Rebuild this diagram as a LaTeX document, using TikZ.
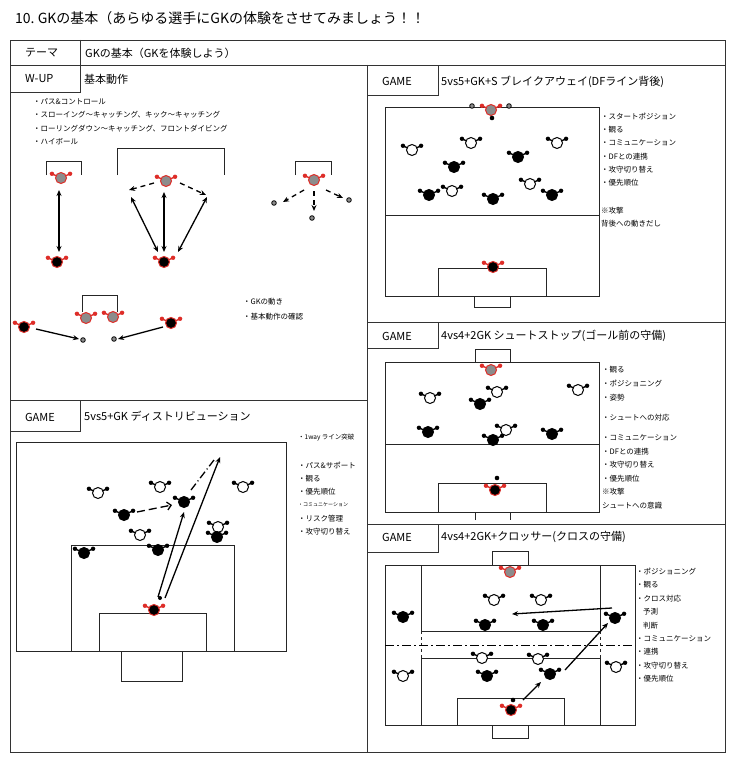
\documentclass[tikz,border=0pt]{standalone}
\usepackage{fontspec}
\setmainfont{Noto Sans CJK JP}
\usetikzlibrary{arrows.meta}
\definecolor{rd}{RGB}{222,45,40}
\definecolor{gk}{RGB}{140,140,140}
\tikzset{
 fr/.style={draw=black!80,line width=0.8},
 ln/.style={draw=black!85,line width=0.7},
 arr/.style={line width=1.3,-{Stealth[length=6pt,width=5pt]}},
 darr/.style={line width=1.3,{Stealth[length=6pt,width=5pt]}-{Stealth[length=6pt,width=5pt]}},
 dsh/.style={arr,dash pattern=on 5pt off 4pt},
 lab/.style={anchor=west,font=\fontsize{11}{11}\selectfont,inner sep=0},
 bul/.style={anchor=west,font=\fontsize{7.5}{8}\selectfont,inner sep=0},
 arms/.style={line width=1.4},
 pics/pl/.style n args={3}{code={
   \draw[#3,arms] (0,0)--(-25:10) (0,0)--(-155:10);
   \fill[#3] (-25:10) circle (2.2) (-155:10) circle (2.2);
   \filldraw[fill=#1,draw=#2,line width=1] (0,0) circle (5.5);
 }},
 pics/bl/.style={code={\pic{pl={black}{black}{black}};}},
 pics/wh/.style={code={\pic{pl={white}{black}{black}};}},
 pics/gg/.style={code={\pic{pl={gk}{rd}{rd}};}},
 pics/gb/.style={code={\pic{pl={black}{rd}{rd}};}},
}
\begin{document}
\begin{tikzpicture}[x=1pt,y=-1pt]
\useasboundingbox (0,0) rectangle (736,773);
\fill[white] (0,0) rectangle (736,773);
\node[anchor=west,inner sep=0,font=\fontsize{14}{14}\selectfont] (title) at (15,18) {10.\ GKの基本（あらゆる選手にGKの体験をさせてみましょう！！};
% frames
\draw[fr] (10,40) rectangle (725,752);
\draw[fr] (10,65)--(725,65) (80,40)--(80,65);
\draw[fr] (367,65)--(367,752);
\draw[fr] (10,92)--(80,92)--(80,65);
\draw[fr] (10,400)--(367,400);
\draw[fr] (10,431)--(80,431)--(80,400);
\draw[fr] (367,95)--(438,95)--(438,65);
\draw[fr] (367,322)--(725,322) (367,348)--(438,348)--(438,322);
\draw[fr] (367,524)--(725,524) (367,552)--(438,552)--(438,524);
\node[lab] (t0) at (25,53) {テーマ};
\node[lab] (t0b) at (85,53) {GKの基本（GKを体験しよう）};
\node[lab] (t1) at (25,79) {W-UP};
\node[lab] (t1b) at (84,79) {基本動作};
\node[lab] (t2) at (25,417) {GAME};
\node[lab] (t2b) at (84,416) {5vs5+GK ディストリビューション};
\node[lab] (t3) at (382,81) {GAME};
\node[lab] (t3b) at (441,82) {5vs5+GK+S ブレイクアウェイ(DFライン背後)};
\node[lab] (t4) at (382,336) {GAME};
\node[lab] (t4b) at (441,336) {4vs4+2GK シュートストップ(ゴール前の守備)};
\node[lab] (t5) at (382,537) {GAME};
\node[lab] (t5b) at (441,537) {4vs4+2GK+クロッサー(クロスの守備)};
% ===== W-UP
\node[bul] (w1) at (33,102) {・パス\&コントロール};
\node[bul] (w2) at (33,115) {・スローイング～キャッチング、キック～キャッチング};
\node[bul] (w3) at (33,129) {・ローリングダウン～キャッチング、フロントダイビング};
\node[bul] (w4) at (33,142) {・ハイボール};
\node[bul] (w5) at (243,302) {・GKの動き};
\node[bul] (w6) at (243,317) {・基本動作の確認};
\draw[ln] (46,175)|-(81,161)--(81,175);
\draw[ln] (117,175)|-(224,148)--(224,175);
\draw[ln] (295,175)|-(331,161)--(331,175);
\draw[ln] (82,312)|-(117,295)--(117,312);
\pic[rotate=180] at (61,178) {gg};
\pic at (57,262) {gb};
\draw[darr] (59,190)--(59,252);
\pic[rotate=180] at (166,181) {gg};
\pic at (164,262) {gb};
\draw[dsh] (154,183)--(129,190);
\draw[dsh] (180,183)--(206,195);
\draw[darr] (164,192)--(164,252);
\draw[darr] (131,197)--(158,252);
\draw[darr] (207,197)--(178,252);
\pic[rotate=180] at (314,180) {gg};
\foreach \p in {(274,203),(312,218),(349,200)} \filldraw[fill=gk,draw=black,line width=0.8] \p circle (2.3);
\draw[dsh] (304,190)--(283,202);
\draw[dsh] (314,191)--(314,211);
\draw[dsh] (326,190)--(343,198);
\pic[rotate=200] at (86,318) {gg};
\pic[rotate=160] at (113,317) {gg};
\pic[rotate=-90] at (24,327) {gb};
\pic[rotate=90] at (171,323) {gb};
\foreach \p in {(83,340),(114,339)} \filldraw[fill=gk,draw=black,line width=0.8] \p circle (2.3);
\draw[arr] (36,329)--(79,339);
\draw[arr] (163,327)--(118,339);
% ===== Left GAME
\draw[ln] (16,442) rectangle (286,651);
\draw[ln] (71,545) rectangle (234,651);
\draw[ln] (99,613) rectangle (206,651);
\draw[ln] (121,651) rectangle (182,681);
\node[bul,font=\fontsize{6.5}{7}\selectfont] (a1) at (298,438) {・1way ライン突破};
\node[bul] (a2) at (298,465) {・パス\&サポート};
\node[bul] (a3) at (298,479) {・観る};
\node[bul] (a4) at (298,492) {・優先順位};
\node[bul,font=\fontsize{5}{5}\selectfont] (a5) at (298,505) {・コミュニケーション};
\node[bul] (a6) at (298,519) {・リスク管理};
\node[bul] (a7) at (298,532) {・攻守切り替え};
\pic at (154,610) {gb};
\pic[rotate=150] at (98,493) {wh};
\pic[rotate=150] at (160,487) {wh};
\pic[rotate=-120] at (243,487) {wh};
\pic[rotate=30] at (140,535) {wh};
\pic[rotate=-30] at (218,527) {wh};
\pic[rotate=-60] at (124,515) {bl};
\pic[rotate=-20] at (184,502) {bl};
\pic[rotate=-60] at (217,537) {bl};
\pic[rotate=-120] at (84,553) {bl};
\pic at (158,550) {bl};
\fill (160,598) circle (2);
\draw[arr] (158,597)--(184,512);
\draw[arr] (165,598)--(220,457);
\draw[line width=1.3,dash pattern=on 8pt off 4pt,-{Straight Barb[length=4pt]}] (137,512)--(172,505);
\draw[line width=1.3,dash pattern=on 8pt off 3pt on 1pt off 3pt] (191,490)--(214,460);
% ===== Right GAME 1
\draw[ln] (385,107) rectangle (599,296);
\draw[ln] (385,215)--(599,215);
\draw[ln] (438,268) rectangle (546,296);
\draw[ln] (474,296) rectangle (510,307);
\node[bul] (b1) at (601,117) {・スタートポジション};
\node[bul] (b2) at (601,130) {・観る};
\node[bul] (b3) at (601,143) {・コミュニケーション};
\node[bul] (b4) at (601,157) {・DFとの連携};
\node[bul] (b5) at (601,170) {・攻守切り替え};
\node[bul] (b6) at (601,183) {・優先順位};
\node[bul] (b7) at (601,211) {※攻撃};
\node[bul] (b8) at (601,224) {背後への動きだし};
\pic[rotate=180] at (491,110) {gg};
\foreach \p in {(472,106),(509,106)} \filldraw[fill=gk,draw=black,line width=0.8] \p circle (2.3);
\fill (492,118) circle (2.3);
\pic at (493,267) {gb};
\pic[rotate=150] at (412,150) {wh};
\pic[rotate=150] at (471,143) {wh};
\pic[rotate=-150] at (557,143) {wh};
\pic[rotate=0] at (452,191) {wh};
\pic[rotate=-150] at (530,184) {wh};
\pic[rotate=-40] at (454,167) {bl};
\pic[rotate=30] at (518,157) {bl};
\pic[rotate=-120] at (429,195) {bl};
\pic at (493,199) {bl};
\pic[rotate=20] at (552,195) {bl};
% ===== Right GAME 2
\draw[ln] (475,362)|-(510,349)--(510,362);
\draw[ln] (385,362) rectangle (599,512);
\draw[ln] (385,444)--(599,444);
\draw[ln] (438,483) rectangle (546,512);
\draw[ln] (475,520)--(475,512) (510,512)--(510,520);
\node[bul] (c1) at (602,370) {・観る};
\node[bul] (c2) at (602,384) {・ポジショニング};
\node[bul] (c3) at (602,398) {・姿勢};
\node[bul] (c4) at (602,418) {・シュートへの対応};
\node[bul] (c5) at (602,438) {・コミュニケーション};
\node[bul] (c6) at (602,452) {・DFとの連携};
\node[bul] (c7) at (602,465) {・攻守切り替え};
\node[bul] (c8) at (602,479) {・優先順位};
\node[bul] (c9) at (602,492) {※攻撃};
\node[bul] (c10) at (602,506) {シュートへの意識};
\pic[rotate=180] at (491,370) {gg};
\pic[rotate=180] at (495,490) {gb};
\fill (497,478) circle (2.3);
\pic[rotate=150] at (430,398) {wh};
\pic[rotate=150] at (497,392) {wh};
\pic[rotate=-150] at (578,390) {wh};
\pic[rotate=20] at (506,430) {wh};
\pic[rotate=-60] at (480,404) {bl};
\pic[rotate=-110] at (428,432) {bl};
\pic at (493,440) {bl};
\pic[rotate=30] at (552,434) {bl};
% ===== Right GAME 3
\draw[ln] (492,565)|-(528,551)--(528,565);
\draw[ln] (385,565) rectangle (635,725);
\draw[ln] (421,565)--(421,631) (600,565)--(600,631) (421,631)--(600,631);
\draw[ln] (421,725)--(421,658) (600,725)--(600,658) (421,658)--(600,658);
\draw[ln,dash pattern=on 3pt off 3pt] (421,631)--(421,658) (600,631)--(600,658);
\draw[line width=0.8,dash pattern=on 9pt off 3pt on 2pt off 3pt] (385,645)--(635,645);
\draw[ln] (457,725)|-(564,698)--(564,725);
\draw[ln] (492,725)|-(528,738)--(528,725);
\node[bul] (d1) at (636,572) {・ポジショニング};
\node[bul] (d2) at (636,585) {・観る};
\node[bul] (d3) at (636,599) {・クロス対応};
\node[bul] (d4) at (643,612) {予測};
\node[bul] (d5) at (643,626) {判断};
\node[bul] (d6) at (636,639) {・コミュニケーション};
\node[bul] (d7) at (636,652) {・連携};
\node[bul] (d8) at (636,666) {・攻守切り替え};
\node[bul] (d9) at (636,679) {・優先順位};
\pic[rotate=180] at (510,572) {gg};
\pic[rotate=20] at (511,710) {gb};
\fill (513,700) circle (2.3);
\pic[rotate=150] at (494,600) {wh};
\pic[rotate=150] at (541,600) {wh};
\pic[rotate=20] at (482,658) {wh};
\pic[rotate=-150] at (538,659) {wh};
\pic[rotate=-150] at (616,667) {wh};
\pic[rotate=150] at (403,676) {wh};
\pic[rotate=-110] at (403,617) {bl};
\pic at (485,625) {bl};
\pic[rotate=20] at (543,625) {bl};
\pic[rotate=70] at (615,618) {bl};
\pic at (487,676) {bl};
\pic[rotate=30] at (550,674) {bl};
\draw[arr] (612,608)--(512,614);
\draw[arr] (565,670)--(608,623);
\draw[arr] (523,700)--(541,682);
\end{tikzpicture}
\end{document}
